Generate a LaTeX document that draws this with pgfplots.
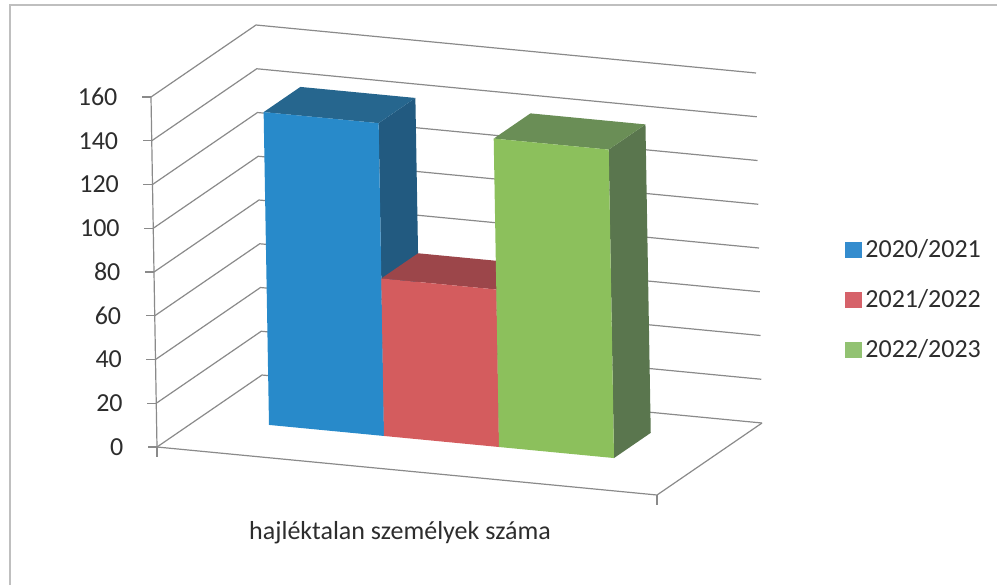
\documentclass[border=0pt]{standalone}
\usepackage{fontspec}
\setmainfont{Carlito}
\usepackage{pgfplots}
\pgfplotsset{compat=1.18}
\definecolor{gridc}{RGB}{138,138,138}
\definecolor{textc}{RGB}{45,45,45}
\definecolor{bluef}{RGB}{40,138,202}
\definecolor{bluet}{RGB}{38,102,142}
\definecolor{blues}{RGB}{34,90,128}
\definecolor{redf}{RGB}{212,92,94}
\definecolor{redt}{RGB}{156,70,74}
\definecolor{reds}{RGB}{140,60,64}
\definecolor{greenf}{RGB}{140,192,92}
\definecolor{greent}{RGB}{106,142,86}
\definecolor{greens}{RGB}{90,118,78}
\definecolor{legblue}{RGB}{52,140,206}
\definecolor{legred}{RGB}{214,98,106}
\definecolor{leggreen}{RGB}{146,194,114}
\begin{document}
\begin{tikzpicture}[font=\fontsize{13}{15.6}\selectfont]
\path[use as bounding box] (0pt,0pt) rectangle (498.5pt,-292.5pt);
\draw[gray!50, line width=0.6pt] (5pt,-292.5pt) -- (5pt,-2.5pt) -- (498.5pt,-2.5pt);
\begin{axis}[
  hide axis, clip=false,
  x={(250pt,-24pt)}, y={(52.5pt,36pt)}, z={(-0.01875pt,1.09375pt)},
  xmin=0, xmax=1, ymin=0, ymax=1, zmin=0, zmax=160,
  anchor=origin, at={(78.5pt,-223.5pt)},
]
% walls: gridlines on left wall and back wall
\pgfplotsinvokeforeach{0,20,...,160}{
  \addplot3[gridc, line width=0.6pt, forget plot] coordinates {(0,0,#1) (0,1,#1) (1,1,#1)};
}
% floor outline and value axis
\addplot3[gridc, line width=0.6pt, forget plot] coordinates {(0,0,0) (1,0,0) (1,1,0)};
\addplot3[gridc, line width=0.6pt, forget plot] coordinates {(0,0,0) (0,0,160)};
\pgfplotsinvokeforeach{0,20,...,160}{
  \draw[gridc, line width=0.6pt] (axis cs:0,0,#1) -- ++(-4.5pt,0pt)
     node[anchor=east, inner sep=0pt, xshift=-12pt, text=textc] {#1};
}
\draw[gridc, line width=0.6pt] (axis cs:1,0,0) -- ++(0pt,-5pt);
\draw[gridc, line width=0.6pt] (axis cs:0,0,0) -- ++(0pt,-5pt);
% bar 2020/2021 = 143
\addplot3[fill=blues, draw=none, forget plot] coordinates {(0.37,0.40,0) (0.37,0.75,0) (0.37,0.75,143) (0.37,0.40,143)};
\addplot3[fill=bluet, draw=none, forget plot] coordinates {(0.14,0.40,143) (0.37,0.40,143) (0.37,0.75,143) (0.14,0.75,143)};
\addplot3[fill=bluef, draw=none, forget plot] coordinates {(0.14,0.40,0) (0.37,0.40,0) (0.37,0.40,143) (0.14,0.40,143)};
% bar 2021/2022 = 72
\addplot3[fill=reds, draw=none, forget plot] coordinates {(0.60,0.40,0) (0.60,0.75,0) (0.60,0.75,72) (0.60,0.40,72)};
\addplot3[fill=redt, draw=none, forget plot] coordinates {(0.37,0.40,72) (0.60,0.40,72) (0.60,0.75,72) (0.37,0.75,72)};
\addplot3[fill=redf, draw=none, forget plot] coordinates {(0.37,0.40,0) (0.60,0.40,0) (0.60,0.40,72) (0.37,0.40,72)};
% bar 2022/2023 = 141
\addplot3[fill=greens, draw=none, forget plot] coordinates {(0.83,0.40,0) (0.83,0.75,0) (0.83,0.75,141) (0.83,0.40,141)};
\addplot3[fill=greent, draw=none, forget plot] coordinates {(0.60,0.40,141) (0.83,0.40,141) (0.83,0.75,141) (0.60,0.75,141)};
\addplot3[fill=greenf, draw=none, forget plot] coordinates {(0.60,0.40,0) (0.83,0.40,0) (0.83,0.40,141) (0.60,0.40,141)};
\end{axis}
% legend (separate empty axis that only carries the legend)
\begin{axis}[
  hide axis, scale only axis, width=2pt, height=2pt,
  xmin=0, xmax=1, ymin=0, ymax=1,
  anchor=center, at={(423.5pt,-150pt)},
  legend style={at={(0,0.5)}, anchor=west, draw=none, fill=none, inner sep=0pt,
    row sep=11pt, font=\fontsize{13}{15.6}\selectfont, text=textc,
    nodes={inner sep=1.8pt}},
  legend cell align=left,
  legend image code/.code={\fill[#1] (0pt,-3.9pt) rectangle (8.2pt,3.9pt);},
]
\addlegendimage{fill=legblue, draw=none}
\addlegendentry{2020/2021}
\addlegendimage{fill=legred, draw=none}
\addlegendentry{2021/2022}
\addlegendimage{fill=leggreen, draw=none}
\addlegendentry{2022/2023}
\end{axis}
\node[text=textc] at (200pt,-266.5pt) {hajléktalan személyek száma};
\end{tikzpicture}
\end{document}
